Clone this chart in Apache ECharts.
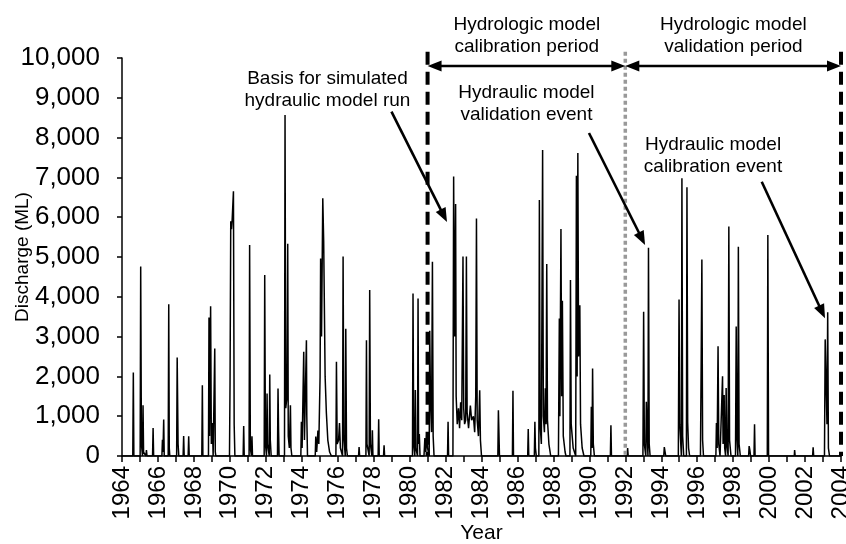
<!DOCTYPE html>
<html>
<head>
<meta charset="utf-8">
<script src="https://cdn.jsdelivr.net/npm/echarts@6/dist/echarts.min.js"></script>
<style>
  html, body { margin: 0; padding: 0; background: #fff; }
  #chart { width: 846px; height: 544px; }
</style>
</head>
<body>
<div id="chart"></div>
<script>
const flow1960s = [
  [1964.00, 0], [1964.60, 0], [1964.63, 2100], [1964.66, 0],
  [1965.01, 0], [1965.04, 4760], [1965.08, 300], [1965.14, 0], [1965.17, 1275], [1965.20, 100], [1965.33, 0], [1965.36, 150], [1965.39, 0],
  [1965.70, 0], [1965.73, 705], [1965.76, 0],
  [1966.22, 0], [1966.25, 410], [1966.28, 100], [1966.32, 915], [1966.35, 0],
  [1966.57, 0], [1966.60, 3810], [1966.63, 200], [1966.66, 0],
  [1967.04, 0], [1967.07, 2475], [1967.09, 2520], [1967.12, 300], [1967.16, 0],
  [1967.40, 0], [1967.43, 505], [1967.46, 0], [1967.68, 0], [1967.71, 495], [1967.74, 0],
  [1968.44, 0], [1968.47, 1780], [1968.50, 0],
  [1968.81, 0], [1968.84, 3480], [1968.87, 500], [1968.93, 3765], [1968.97, 300], [1969.03, 830], [1969.07, 0],
  [1969.13, 0], [1969.16, 2700], [1969.19, 100], [1969.22, 0]
];
const flow1970s = [
  [1969.98, 0], [1970.01, 1800], [1970.05, 5900], [1970.09, 5700], [1970.13, 5950], [1970.20, 6650], [1970.24, 800], [1970.28, 0],
  [1970.74, 0], [1970.77, 755], [1970.80, 0],
  [1971.07, 0], [1971.10, 5300], [1971.14, 200], [1971.20, 0], [1971.23, 495], [1971.26, 0],
  [1971.91, 0], [1971.94, 4545], [1971.98, 300], [1972.04, 0], [1972.07, 1570], [1972.10, 300], [1972.19, 0], [1972.22, 2045], [1972.25, 400], [1972.30, 0],
  [1972.65, 0], [1972.68, 1695], [1972.71, 650], [1972.74, 0],
  [1973.04, 0], [1973.07, 8570], [1973.11, 1200], [1973.18, 1500], [1973.22, 5330], [1973.25, 500], [1973.31, 200], [1973.37, 1275], [1973.40, 200], [1973.45, 0],
  [1973.95, 0], [1973.98, 860], [1974.02, 200], [1974.11, 2620], [1974.15, 400], [1974.26, 2910], [1974.28, 1020], [1974.32, 0],
  [1974.75, 0], [1974.78, 490], [1974.83, 100], [1974.90, 640], [1974.95, 300], [1975.02, 2000], [1975.05, 4965], [1975.10, 3000],
  [1975.17, 6475], [1975.22, 5400], [1975.30, 2000], [1975.37, 1080], [1975.45, 400], [1975.55, 100], [1975.65, 0],
  [1975.90, 0], [1975.93, 2365], [1975.97, 300], [1976.05, 400], [1976.10, 830], [1976.15, 200], [1976.27, 0], [1976.30, 5010], [1976.34, 500],
  [1976.42, 0], [1976.45, 3200], [1976.49, 200], [1976.54, 0],
  [1977.16, 0], [1977.19, 225], [1977.22, 0],
  [1977.57, 0], [1977.60, 2910], [1977.63, 300], [1977.75, 0], [1977.78, 4170], [1977.82, 300], [1977.90, 0], [1977.93, 645], [1977.96, 0],
  [1978.25, 0], [1978.28, 925], [1978.31, 0], [1978.55, 0], [1978.58, 270], [1978.61, 0]
];
const flow1980s = [
  [1980.16, 0], [1980.19, 4085], [1980.23, 300], [1980.29, 0], [1980.32, 1655], [1980.35, 200], [1980.44, 0], [1980.47, 3960], [1980.50, 300], [1980.54, 550], [1980.58, 0],
  [1980.80, 0], [1980.85, 450], [1980.90, 100], [1980.96, 600], [1981.00, 200], [1981.09, 0], [1981.12, 3145], [1981.16, 1500], [1981.22, 600],
  [1981.27, 4880], [1981.31, 500], [1981.36, 0],
  [1982.11, 0], [1982.14, 860], [1982.17, 0],
  [1982.41, 0], [1982.45, 7020], [1982.48, 4400], [1982.51, 3000], [1982.56, 6330], [1982.59, 1500], [1982.65, 800], [1982.72, 1200], [1982.78, 700],
  [1982.84, 1350], [1982.90, 900], [1982.97, 5010], [1983.01, 1200], [1983.06, 800], [1983.12, 900], [1983.16, 5010], [1983.20, 1100], [1983.28, 700],
  [1983.38, 1270], [1983.45, 900], [1983.55, 1000], [1983.62, 600], [1983.68, 1500], [1983.72, 5970], [1983.76, 900], [1983.83, 500], [1983.90, 1650],
  [1983.94, 400], [1984.00, 0],
  [1984.91, 0], [1984.94, 1150], [1984.97, 1100], [1985.00, 0],
  [1985.72, 0], [1985.75, 1640], [1985.78, 0],
  [1986.57, 0], [1986.60, 680], [1986.63, 0],
  [1986.94, 0], [1986.97, 860], [1987.00, 200], [1987.05, 0], [1987.19, 0], [1987.22, 6435], [1987.26, 800], [1987.33, 300], [1987.40, 7690],
  [1987.44, 1000], [1987.50, 600], [1987.55, 1700], [1987.59, 800], [1987.63, 4825], [1987.67, 900], [1987.75, 300], [1987.85, 0],
  [1988.28, 0], [1988.33, 3455], [1988.36, 1000], [1988.42, 5705], [1988.46, 1500], [1988.50, 3900], [1988.55, 500], [1988.65, 100], [1988.70, 0],
  [1988.92, 0], [1988.95, 4420], [1988.99, 800], [1989.10, 200], [1989.24, 0], [1989.28, 7040], [1989.32, 2000], [1989.36, 7610], [1989.40, 2500],
  [1989.47, 3790], [1989.51, 800], [1989.60, 200], [1989.70, 0],
  [1990.08, 0], [1990.11, 1235], [1990.15, 200], [1990.18, 2200], [1990.22, 300], [1990.28, 0]
];
const flow1990s = [
  [1991.17, 0], [1991.20, 770], [1991.23, 0],
  [1992.10, 0], [1992.13, 200], [1992.16, 0],
  [1992.98, 0], [1993.02, 3625], [1993.06, 300], [1993.14, 0], [1993.17, 1360], [1993.22, 500], [1993.26, 0], [1993.29, 5230], [1993.33, 300], [1993.38, 0],
  [1994.14, 0], [1994.17, 225], [1994.22, 200], [1994.25, 0],
  [1994.95, 0], [1994.99, 3935], [1995.03, 800], [1995.12, 0], [1995.15, 6980], [1995.19, 500], [1995.25, 0],
  [1995.40, 0], [1995.43, 6750], [1995.47, 850], [1995.52, 200], [1995.58, 0],
  [1996.18, 0], [1996.22, 2265], [1996.26, 4940], [1996.30, 400], [1996.35, 0],
  [1997.04, 0], [1997.07, 830], [1997.11, 200], [1997.16, 2760], [1997.20, 300], [1997.27, 0],
  [1997.38, 0], [1997.41, 2005], [1997.44, 300], [1997.50, 1530], [1997.53, 200], [1997.58, 0], [1997.61, 1710], [1997.65, 300], [1997.72, 0],
  [1997.76, 5765], [1997.80, 400], [1997.88, 0],
  [1998.13, 0], [1998.17, 3255], [1998.21, 500], [1998.26, 0], [1998.29, 5260], [1998.33, 300], [1998.40, 0],
  [1998.86, 0], [1998.89, 250], [1998.93, 150], [1998.97, 0], [1999.16, 0], [1999.19, 800], [1999.22, 0],
  [1999.90, 0], [1999.93, 5550], [1999.97, 0]
];
const flow2000s = [
  [2001.40, 0], [2001.42, 150], [2001.45, 0],
  [2002.42, 0], [2002.45, 220], [2002.48, 0],
  [2003.08, 0], [2003.12, 2930], [2003.18, 2950], [2003.22, 800], [2003.26, 3610], [2003.30, 200], [2003.36, 0],
  [2004.00, 0]
];

const periodBreaks = [1981, 1992, 2004];
const periodLabels = ['Hydrologic model\ncalibration period', 'Hydrologic model\nvalidation period'];
const eventLabels = [
  'Basis for simulated\nhydraulic model run',
  'Hydraulic model\nvalidation event',
  'Hydraulic model\ncalibration event'
];

const FONT = 'Liberation Sans, Arial, Helvetica, sans-serif';
const flow = [].concat(flow1960s, flow1970s, flow1980s, flow1990s, flow2000s);

const chart = echarts.init(document.getElementById('chart'));

chart.setOption({
  animation: false,
  backgroundColor: '#fff',
  grid: { left: 122, right: 5, top: 58, bottom: 88, outerBoundsMode: 'none' },
  xAxis: {
    type: 'value',
    min: 1964,
    max: 2004,
    interval: 1,
    name: 'Year',
    nameLocation: 'middle',
    nameGap: 67,
    nameMoveOverlap: false,
    nameTextStyle: { fontFamily: FONT, fontSize: 21, color: '#000' },
    axisLine: { onZero: false, lineStyle: { color: '#000', width: 1.5 } },
    axisTick: { inside: false, length: 6, lineStyle: { color: '#000', width: 1.5 } },
    axisLabel: {
      rotate: 90,
      margin: 10,
      fontFamily: FONT,
      fontSize: 24,
      color: '#000',
      hideOverlap: false,
      formatter: v => (v % 2 === 0 ? String(v) : '')
    },
    splitLine: { show: false }
  },
  yAxis: {
    type: 'value',
    min: 0,
    max: 10000,
    interval: 1000,
    name: 'Discharge (ML)',
    nameLocation: 'middle',
    nameGap: 90,
    nameRotate: 90,
    nameMoveOverlap: false,
    nameTextStyle: { fontFamily: FONT, fontSize: 19, color: '#000' },
    axisLine: { show: true, lineStyle: { color: '#000', width: 1.5 } },
    axisTick: { show: true, length: 5, lineStyle: { color: '#000', width: 1.5 } },
    axisLabel: {
      margin: 22,
      fontFamily: FONT,
      fontSize: 26,
      color: '#000',
      formatter: v => v.toLocaleString('en-US')
    },
    splitLine: { show: false }
  },
  series: [{
    type: 'line',
    data: flow,
    showSymbol: false,
    symbol: 'none',
    lineStyle: { color: '#000', width: 1.5 },
    z: 2
  }]
});

// annotations, anchored in data coordinates
const px = (x, y) => chart.convertToPixel({ gridIndex: 0 }, [x, y]);

function arrowHead(from, to, len, wid) {
  const dx = to[0] - from[0], dy = to[1] - from[1];
  const d = Math.sqrt(dx * dx + dy * dy);
  const ux = dx / d, uy = dy / d;
  const bx = to[0] - ux * len, by = to[1] - uy * len;
  return {
    type: 'polygon',
    shape: { points: [to, [bx - uy * wid / 2, by + ux * wid / 2], [bx + uy * wid / 2, by - ux * wid / 2]] },
    style: { fill: '#000' },
    z: 20
  };
}

function arrow(from, to) {
  const dx = to[0] - from[0], dy = to[1] - from[1];
  const d = Math.sqrt(dx * dx + dy * dy);
  const end = [to[0] - dx / d * 10, to[1] - dy / d * 10];
  return [
    { type: 'line', shape: { x1: from[0], y1: from[1], x2: end[0], y2: end[1] }, style: { stroke: '#000', lineWidth: 2.6 }, z: 20 },
    arrowHead(from, to, 14, 11)
  ];
}

function label(text, p) {
  return {
    type: 'text',
    x: p[0], y: p[1],
    style: { text: text, fontFamily: FONT, fontSize: 19, lineHeight: 22, fill: '#000', align: 'center', verticalAlign: 'middle' },
    z: 20
  };
}

const els = [];
const lineTop = 10158;
periodBreaks.forEach((yr, i) => {
  const a = px(yr, lineTop), b = px(yr, 0);
  const dotted = i === 1;
  els.push({
    type: 'line',
    shape: { x1: a[0], y1: a[1], x2: b[0], y2: b[1] },
    style: dotted
      ? { stroke: '#999', lineWidth: 3.5, lineDash: [4, 3] }
      : { stroke: '#000', lineWidth: 4, lineDash: [13, 7] },
    z: 15
  });
});

// double arrows for hydrologic periods
const arrowY = 9799;
for (let i = 0; i < 2; i++) {
  const l = px(periodBreaks[i], arrowY), r = px(periodBreaks[i + 1], arrowY);
  els.push({ type: 'line', shape: { x1: l[0] + 10, y1: l[1], x2: r[0] - 10, y2: r[1] }, style: { stroke: '#000', lineWidth: 2.6 }, z: 20 });
  els.push(arrowHead(r, l, 14, 11));
  els.push(arrowHead(l, r, 14, 11));
}
els.push(label(periodLabels[0], px(1986.52, 10565)));
els.push(label(periodLabels[1], px(1998.01, 10565)));

// event annotations
els.push(label(eventLabels[0], px(1975.43, 9209)));
els.push(...arrow(px(1978.99, 8651), px(1982.08, 5879)));
els.push(label(eventLabels[1], px(1986.50, 8844)));
els.push(...arrow(px(1989.98, 8116), px(1993.10, 5302)));
els.push(label(eventLabels[2], px(1996.88, 7538)));
els.push(...arrow(px(1999.59, 6892), px(2003.11, 3460)));

chart.setOption({ graphic: { elements: els } });
</script>
</body>
</html>
